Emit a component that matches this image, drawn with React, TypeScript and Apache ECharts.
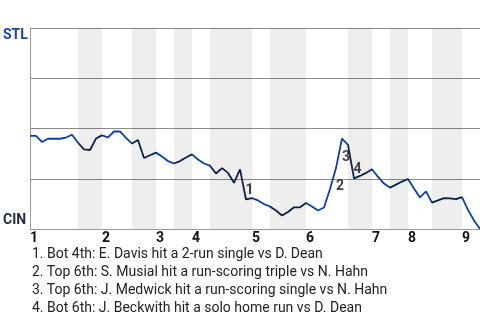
import React, { useEffect, useRef } from "react";
import * as echarts from "echarts";

// STL win probability (%) after each plate appearance (index = PA number)
const winProb: number[] = [
  46.3, 46.3, 43.3, 44.9, 44.9, 44.9, 45.5, 46.9, 42.9, 39.6,
  39.3, 45.0, 46.6, 45.6, 48.5, 48.6, 45.3, 42.5, 44.3, 35.3,
  36.7, 38.0, 36.1, 33.8, 32.6, 33.8, 35.6, 37.1, 34.6, 32.6,
  31.5, 27.6, 30.3, 27.9, 23.0, 29.7, 14.7, 15.4, 14.2, 12.4,
  11.2, 9.2, 6.7, 8.5, 10.8, 10.8, 12.9, 11.2, 9.2, 10.7,
  19.9, 30.3, 45.0, 41.8, 25.2, 26.4, 27.9, 29.7, 25.9, 22.6,
  20.6, 22.1, 23.6, 24.9, 20.1, 15.7, 18.7, 13.1, 14.2, 15.4,
  15.2, 14.9, 15.9, 9.5, 4.2, 0,
];
const totalPA = 75;
const inningStarts: number[] = [0, 12, 21, 27, 37, 46, 57, 63, 72];
const inningLabels: string[] = ["1", "2", "3", "4", "5", "6", "7", "8", "9"];
const bottomHalves: number[][] = [
  [8, 12], [17, 21], [24, 27], [30, 37], [40, 46], [53, 57], [60, 63], [67, 72],
];
const eventPA: number[] = [36, 51, 52, 54];
const eventNotes: string[] = [
  "1. Bot 4th: E. Davis hit a 2-run single vs D. Dean",
  "2. Top 6th: S. Musial hit a run-scoring triple vs N. Hahn",
  "3. Top 6th: J. Medwick hit a run-scoring single vs N. Hahn",
  "4. Bot 6th: J. Beckwith hit a solo home run vs D. Dean",
];
const teamTop = "STL";
const teamBottom = "CIN";

const BLUE = "#0b3fab";
const NAVY = "#0c2143";
const FONT = "Roboto, 'Liberation Sans', sans-serif";

export default function App() {
  const ref = useRef<HTMLDivElement>(null);
  useEffect(() => {
    if (!ref.current) return;
    const chart = echarts.init(ref.current, undefined, { renderer: "svg" });

    const pieces: any[] = [];
    inningStarts.forEach((start, i) => {
      const b = bottomHalves[i];
      const topEnd = b ? b[0] : totalPA;
      pieces.push({ gte: start, lt: topEnd, color: BLUE });
      if (b) pieces.push({ gte: b[0], lt: b[1], color: NAVY });
    });
    pieces[pieces.length - 1] = { ...pieces[pieces.length - 1], lt: undefined, lte: totalPA };

    const graphic: any[] = [
      {
        type: "text", left: 3, top: 27,
        style: { text: teamTop, fill: "#1a45a6", font: `bold 14px ${FONT}` },
      },
      {
        type: "text", left: 3, top: 212,
        style: { text: teamBottom, fill: "#1c2a48", font: `bold 14px ${FONT}` },
      },
      ...eventNotes.map((t, i) => ({
        type: "text", left: 32, top: 246 + i * 18.1,
        style: { text: t, fill: "#222", font: `14px ${FONT}` },
      })),
    ];

    chart.setOption({
      animation: false,
      grid: { left: 30, right: 0, top: 28, bottom: 91 },
      xAxis: {
        type: "value", min: 0, max: totalPA,
        axisLine: { show: true, lineStyle: { color: "#9a9a9a", width: 1 } },
        axisTick: { show: false },
        splitLine: { show: false },
        axisLabel: {
          customValues: inningStarts,
          formatter: (v: number) => inningLabels[inningStarts.indexOf(v)] ?? "",
          align: "left",
          margin: 2,
          lineHeight: 12,
          color: "#111",
          fontWeight: "bold",
          fontSize: 14,
          fontFamily: FONT,
          showMinLabel: true,
          showMaxLabel: true,
        },
      },
      yAxis: {
        type: "value", min: 0, max: 100, interval: 25,
        axisLine: { show: true, lineStyle: { color: "#9a9a9a", width: 1 } },
        axisTick: { show: false },
        axisLabel: { show: false },
        splitLine: { show: true, lineStyle: { color: "#8a8a8a", width: 1 } },
      },
      visualMap: {
        type: "piecewise", show: false, dimension: 0, seriesIndex: 0, pieces,
      },
      series: [
        {
          type: "line",
          data: winProb.map((v, i) => [i, v]),
          showSymbol: false,
          symbol: "none",
          lineStyle: { width: 1.8 },
          silent: true,
          z: 3,
          markArea: {
            silent: true,
            itemStyle: { color: "rgba(0,0,0,0.068)" },
            data: bottomHalves.map(([a, b]) => [{ xAxis: a }, { xAxis: b }]),
          },
        },
        {
          type: "scatter",
          symbolSize: 1,
          itemStyle: { color: "rgba(0,0,0,0)" },
          silent: true,
          z: 4,
          data: eventPA.map((k, n) => {
            const up = winProb[k] > winProb[k - 1];
            return {
              value: [k, winProb[k]],
              label: {
                show: true,
                formatter: String(n + 1),
                position: "inside",
                offset: up ? [4, 17] : [3.5, -10],
                color: "#111",
                fontWeight: "bold",
                fontSize: 14,
                fontFamily: FONT,
              },
            };
          }),
        },
      ],
      graphic,
    });
    return () => chart.dispose();
  }, []);
  return (
    <div
      ref={ref}
      style={{ position: "fixed", left: 0, top: 0, width: 480, height: 320 }}
    />
  );
}
